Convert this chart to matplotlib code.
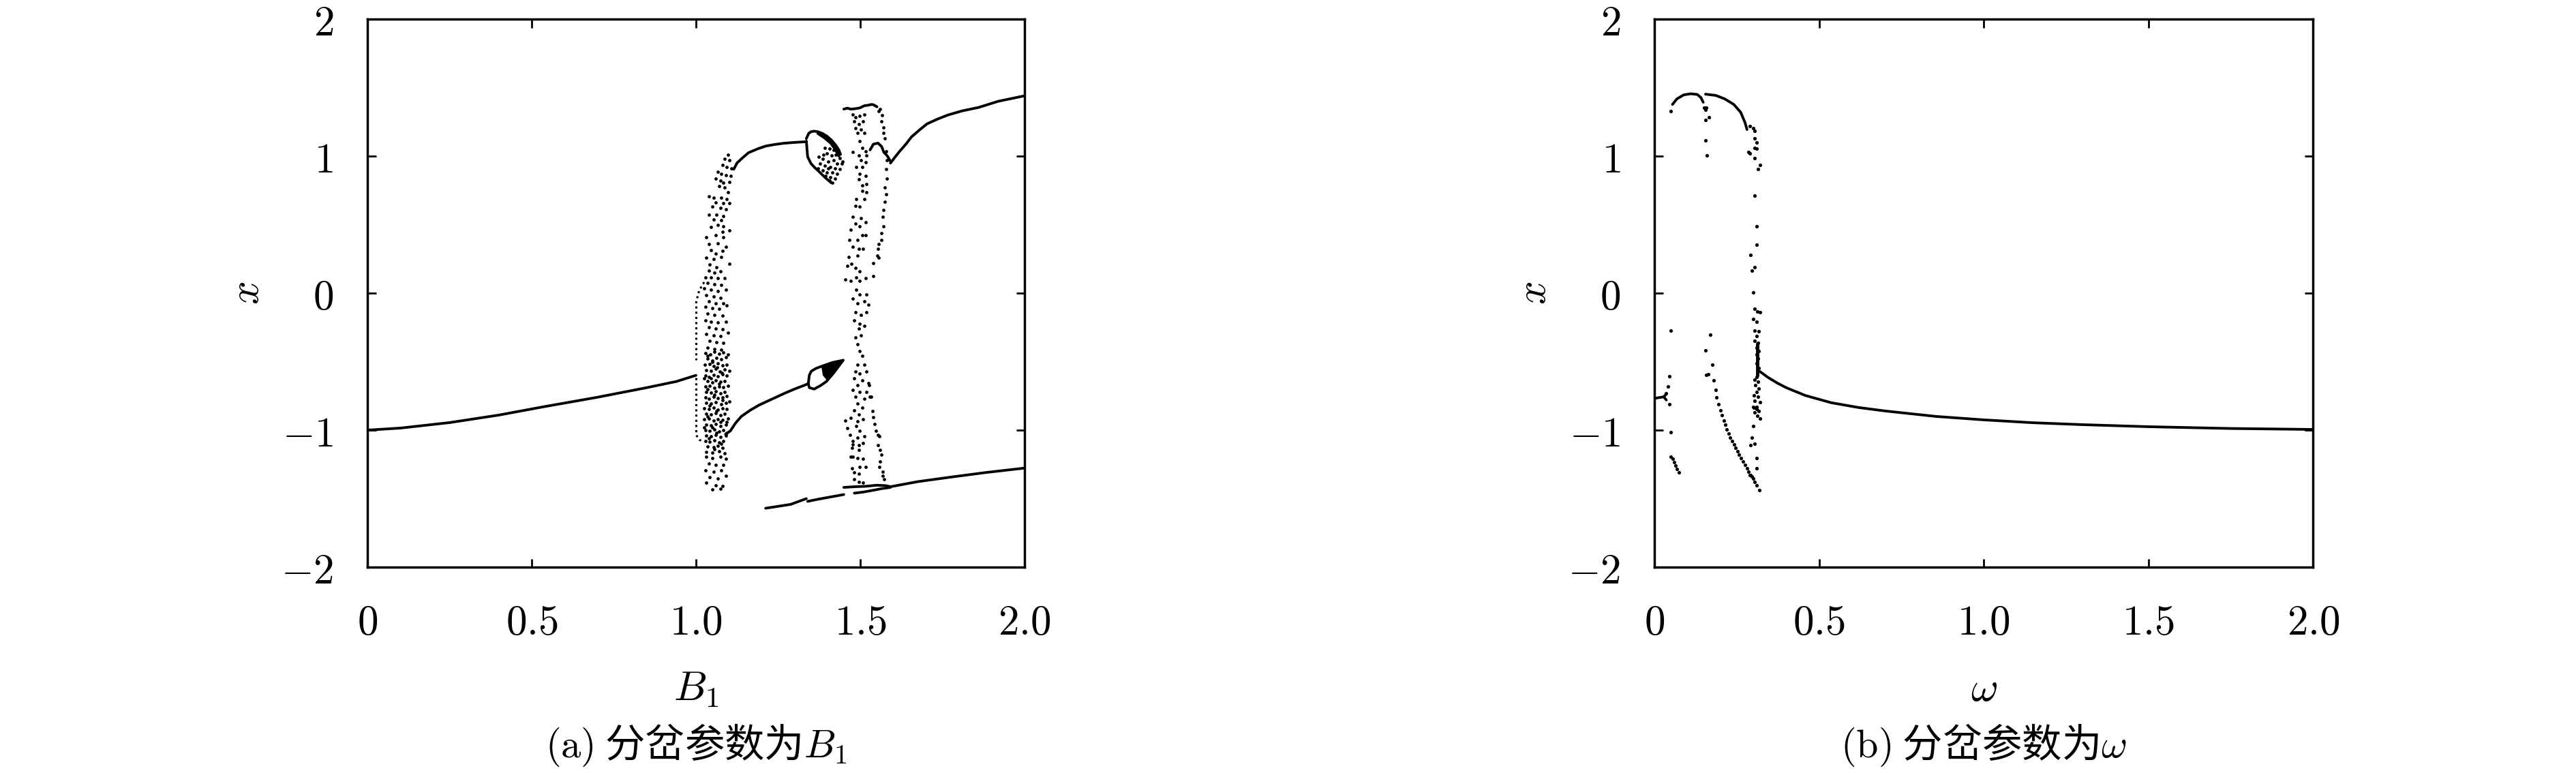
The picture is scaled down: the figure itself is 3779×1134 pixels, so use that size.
import numpy as np
import matplotlib.pyplot as plt

plt.rcParams['mathtext.fontset'] = 'cm'
plt.rcParams['font.family'] = ['Noto Sans CJK SC', 'DejaVu Sans']

# ---- axes / labels ----
x_ticks = [0, 0.5, 1.0, 1.5, 2.0]
x_ticklabels = ['$0$', '$0.5$', '$1.0$', '$1.5$', '$2.0$']
y_ticks = [-2, -1, 0, 1, 2]
y_ticklabels = ['$-2$', '$-1$', '$0$', '$1$', '$2$']
panel_xlabels = ['$B_1$', r'$\omega$']
panel_captions = [r'$\mathrm{(a)}$ 分岔参数为$B_1$', r'$\mathrm{(b)}$ 分岔参数为$\omega$']

# ---- panel (a): bifurcation vs B1 ----
a_left_branch = [(0.0, -1.0), (0.1, -0.985), (0.25, -0.945), (0.4, -0.89), (0.535, -0.83),
                 (0.7, -0.76), (0.85, -0.69), (0.94, -0.645), (1.0, -0.60)]
a_upper_mid = [(1.115, 0.904), (1.125, 0.95), (1.143, 0.99), (1.16, 1.025), (1.19, 1.055),
               (1.212, 1.073), (1.24, 1.085), (1.268, 1.094), (1.30, 1.10), (1.336, 1.105)]
a_crescent_outer = [(1.336, 1.128), (1.343, 1.165), (1.350, 1.178), (1.36, 1.182), (1.371, 1.178),
                    (1.385, 1.165), (1.399, 1.145), (1.413, 1.115), (1.426, 1.078), (1.435, 1.045),
                    (1.440, 1.012)]
a_crescent_inner = [(1.371, 1.165), (1.39, 1.135), (1.41, 1.095), (1.425, 1.045), (1.435, 1.0)]
a_crescent_lower = [(1.336, 1.11), (1.338, 1.05), (1.340, 0.995), (1.350, 0.946), (1.362, 0.915),
                    (1.371, 0.896), (1.392, 0.846), (1.412, 0.805)]
a_crescent_dots = [(1.392, 1.062), (1.406, 1.053), (1.419, 1.045), (1.399, 1.02), (1.412, 1.004),
                   (1.426, 1.012), (1.437, 0.987), (1.385, 0.979), (1.402, 0.962), (1.419, 0.97),
                   (1.43, 0.946), (1.444, 0.946), (1.378, 0.946), (1.392, 0.929), (1.409, 0.921),
                   (1.423, 0.912), (1.437, 0.904), (1.385, 0.896), (1.399, 0.879), (1.416, 0.879),
                   (1.43, 0.871), (1.395, 0.854), (1.409, 0.846), (1.423, 0.838), (1.406, 0.821),
                   (1.416, 0.805), (1.447, 0.962), (1.374, 0.995), (1.388, 1.012), (1.402, 0.912),
                   (1.371, 0.912)]
a_spear_stem = [(1.09, -1.03), (1.105, -1.005), (1.12, -0.95), (1.138, -0.90), (1.165, -0.855),
                (1.193, -0.816), (1.23, -0.775), (1.268, -0.733), (1.30, -0.70), (1.332, -0.671),
                (1.342, -0.66)]
a_spear_lower = [(1.342, -0.66), (1.345, -0.69), (1.36, -0.70), (1.379, -0.675), (1.397, -0.645),
                 (1.42, -0.58), (1.448, -0.49)]
a_spear_upper = [(1.342, -0.66), (1.345, -0.60), (1.351, -0.57), (1.365, -0.55), (1.379, -0.537),
                 (1.416, -0.506), (1.448, -0.49)]
a_spear_tip = [(1.382, -0.54), (1.448, -0.49), (1.40, -0.64), (1.386, -0.60)]
a_low_left_1 = [(1.212, -1.57), (1.25, -1.556), (1.288, -1.542), (1.336, -1.50)]
a_low_left_2 = [(1.340, -1.52), (1.37, -1.505), (1.40, -1.492), (1.45, -1.47)]
a_loop_top = [(1.450, -1.418), (1.482, -1.413), (1.516, -1.410), (1.550, -1.402), (1.578, -1.405),
              (1.592, -1.413)]
a_loop_bottom = [(1.482, -1.46), (1.509, -1.452), (1.537, -1.44), (1.565, -1.427), (1.592, -1.418)]
a_low_right = [(1.592, -1.413), (1.675, -1.376), (1.772, -1.344), (1.88, -1.31), (2.0, -1.277)]
a_upper_right = [(1.592, 0.949), (1.605, 0.99), (1.62, 1.035), (1.64, 1.09), (1.656, 1.14),
                 (1.68, 1.19), (1.703, 1.235), (1.735, 1.27), (1.767, 1.30), (1.81, 1.33),
                 (1.86, 1.355), (1.92, 1.40), (2.0, 1.44)]
a_band2_top = [(1.450, 1.343), (1.461, 1.35), (1.471, 1.343), (1.485, 1.346), (1.499, 1.352),
               (1.513, 1.368), (1.526, 1.372), (1.533, 1.377), (1.540, 1.375), (1.551, 1.36)]
a_band2_vloop = [(1.530, 1.045), (1.540, 1.087), (1.554, 1.095), (1.565, 1.07), (1.572, 1.028),
                 (1.582, 1.003), (1.592, 0.962)]
a_vline_1 = [(1.025, 0.08), (1.01, 0.02), (1.001, -0.06), (1.001, -0.49)]
a_vline_2 = [(1.001, -0.62), (1.001, -1.036), (1.01, -1.07), (1.025, -1.085)]

a_band1 = [
    # upper sparse part
    (1.098, 1.012), (1.087, 0.979), (1.101, 0.97), (1.080, 0.937), (1.094, 0.921), (1.108, 0.912),
    (1.067, 0.888), (1.077, 0.871), (1.091, 0.863), (1.105, 0.854), (1.060, 0.838), (1.074, 0.821),
    (1.084, 0.805), (1.101, 0.813), (1.070, 0.78), (1.087, 0.771), (1.098, 0.738), (1.039, 0.705),
    (1.053, 0.697), (1.077, 0.697), (1.094, 0.689), (1.060, 0.664), (1.084, 0.655), (1.101, 0.655),
    (1.049, 0.631), (1.074, 0.622), (1.091, 0.614), (1.039, 0.572), (1.063, 0.572), (1.084, 0.564),
    (1.053, 0.539), (1.077, 0.531), (1.067, 0.498), (1.084, 0.49), (1.046, 0.481), (1.101, 0.456),
    (1.080, 0.448), (1.032, 0.407), (1.060, 0.423), (1.084, 0.407),
    # middle part
    (1.039, 0.357), (1.067, 0.365), (1.091, 0.34), (1.046, 0.315), (1.060, 0.29), (1.080, 0.307),
    (1.032, 0.257), (1.053, 0.249), (1.077, 0.266), (1.101, 0.216), (1.042, 0.208), (1.063, 0.191),
    (1.039, 0.166), (1.056, 0.15), (1.074, 0.158), (1.029, 0.116), (1.046, 0.116), (1.067, 0.108),
    (1.087, 0.108), (1.036, 0.075), (1.056, 0.067), (1.077, 0.058), (1.025, 0.033), (1.046, 0.025),
    (1.067, 0.017), (1.091, 0.025), (1.032, -0.016), (1.053, -0.025), (1.074, -0.033), (1.039, -0.058),
    (1.060, -0.074), (1.084, -0.074), (1.029, -0.099), (1.049, -0.107), (1.070, -0.116), (1.094, -0.091),
    (1.036, -0.149), (1.056, -0.157), (1.080, -0.166), (1.029, -0.199), (1.046, -0.207), (1.067, -0.215),
    (1.091, -0.207), (1.039, -0.248), (1.060, -0.257), (1.080, -0.265), (1.032, -0.298), (1.053, -0.306),
    (1.074, -0.315), (1.098, -0.29), (1.042, -0.348), (1.063, -0.356), (1.084, -0.364), (1.036, -0.398),
    (1.056, -0.406), (1.077, -0.414),
    # dense lower part
    (1.029, -0.44), (1.043, -0.45), (1.057, -0.43), (1.070, -0.445), (1.084, -0.435), (1.098, -0.45),
    (1.035, -0.48), (1.049, -0.49), (1.063, -0.475), (1.077, -0.485), (1.091, -0.47),
    (1.028, -0.52), (1.042, -0.515), (1.055, -0.53), (1.067, -0.51), (1.080, -0.525), (1.094, -0.52),
    (1.032, -0.56), (1.046, -0.565), (1.060, -0.55), (1.073, -0.57), (1.087, -0.555), (1.101, -0.565),
    (1.029, -0.60), (1.039, -0.61), (1.053, -0.595), (1.067, -0.605), (1.080, -0.59), (1.094, -0.60),
    (1.036, -0.64), (1.049, -0.65), (1.060, -0.635), (1.074, -0.645), (1.087, -0.64),
    (1.029, -0.68), (1.042, -0.675), (1.056, -0.69), (1.070, -0.68), (1.084, -0.685), (1.098, -0.675),
    (1.032, -0.72), (1.046, -0.725), (1.060, -0.715), (1.074, -0.73), (1.087, -0.72),
    (1.029, -0.76), (1.039, -0.77), (1.053, -0.755), (1.067, -0.765), (1.080, -0.76), (1.094, -0.75),
    (1.032, -0.80), (1.046, -0.805), (1.060, -0.795), (1.077, -0.81), (1.091, -0.80), (1.101, -0.79),
    (1.025, -0.84), (1.039, -0.845), (1.053, -0.835), (1.067, -0.85), (1.080, -0.84), (1.094, -0.845),
    (1.032, -0.88), (1.046, -0.885), (1.060, -0.875), (1.074, -0.89), (1.087, -0.88),
    (1.025, -0.92), (1.039, -0.915), (1.053, -0.93), (1.067, -0.92), (1.080, -0.925), (1.098, -0.915),
    (1.032, -0.96), (1.046, -0.965), (1.060, -0.955), (1.074, -0.97), (1.091, -0.96),
    (1.029, -1.00), (1.042, -1.005), (1.056, -0.995), (1.070, -1.01), (1.084, -1.00),
    (1.032, -1.04), (1.046, -1.045), (1.060, -1.035), (1.074, -1.05), (1.091, -1.04),
    (1.029, -1.08), (1.042, -1.085), (1.056, -1.075), (1.070, -1.09), (1.084, -1.08),
    (1.036, -1.12), (1.053, -1.125), (1.067, -1.115), (1.080, -1.13),
    (1.032, -1.16), (1.049, -1.165), (1.070, -1.155), (1.087, -1.17),
    (1.036, -0.46), (1.050, -0.50), (1.064, -0.54), (1.078, -0.58), (1.046, -0.62), (1.070, -0.66),
    (1.036, -0.70), (1.056, -0.74), (1.080, -0.78), (1.042, -0.82), (1.063, -0.86), (1.036, -0.90),
    (1.074, -0.94), (1.049, -0.98), (1.063, -1.02), (1.039, -1.06), (1.077, -1.10), (1.056, -1.14),
    (1.094, -1.02), (1.094, -0.94), (1.025, -0.98), (1.025, -0.62),
    # bottom tail
    (1.032, -1.194), (1.049, -1.202), (1.074, -1.194), (1.091, -1.21), (1.039, -1.244), (1.060, -1.252),
    (1.084, -1.252), (1.029, -1.293), (1.053, -1.302), (1.077, -1.293), (1.042, -1.343), (1.067, -1.351),
    (1.091, -1.335), (1.032, -1.385), (1.060, -1.401), (1.080, -1.41), (1.049, -1.434), (1.074, -1.426),
]

a_band2 = [
    # right edge dotted line
    (1.557, 1.327), (1.564, 1.252), (1.571, 1.169), (1.575, 1.128), (1.578, 1.037), (1.582, 0.97),
    (1.578, 0.905), (1.582, 0.838), (1.574, 0.772), (1.578, 0.722), (1.574, 0.665), (1.571, 0.607),
    (1.568, 0.556), (1.571, 0.490), (1.564, 0.440), (1.564, 0.390), (1.557, 0.357), (1.554, 0.323),
    (1.551, 0.274), (1.557, 0.257), (1.540, 0.124), (1.561, 1.343), (1.566, 1.30), (1.570, 1.21),
    # left group, upper
    (1.478, 1.302), (1.485, 1.285), (1.499, 1.294), (1.513, 1.302), (1.481, 1.252), (1.495, 1.236),
    (1.509, 1.252), (1.485, 1.202), (1.502, 1.194), (1.513, 1.169), (1.492, 1.169), (1.499, 1.111),
    (1.478, 1.028), (1.506, 1.061), (1.516, 1.036), (1.495, 1.003), (1.519, 1.003), (1.502, 0.97),
    (1.488, 0.92), (1.506, 0.92), (1.516, 0.953), (1.499, 0.871), (1.516, 0.854), (1.495, 0.83),
    (1.506, 0.788), (1.519, 0.796), (1.506, 0.747), (1.519, 0.738), (1.488, 0.688), (1.513, 0.688),
    (1.485, 0.639), (1.499, 0.63), (1.478, 0.556), (1.502, 0.548), (1.516, 0.515), (1.485, 0.506),
    (1.499, 0.49), (1.471, 0.465), (1.506, 0.423), (1.516, 0.423), (1.467, 0.390), (1.492, 0.390),
    (1.478, 0.340), (1.495, 0.323), (1.509, 0.323), (1.464, 0.265), (1.492, 0.274), (1.54, 0.22),
    # lower section
    (1.461, 0.199), (1.474, 0.216), (1.485, 0.183), (1.499, 0.158), (1.488, 0.116), (1.454, 0.1),
    (1.471, 0.091), (1.499, 0.091), (1.516, 0.108), (1.488, 0.025), (1.499, -0.008), (1.519, -0.008),
    (1.478, -0.041), (1.492, -0.075), (1.513, -0.058), (1.526, -0.083), (1.485, -0.141), (1.502, -0.157),
    (1.519, -0.141), (1.481, -0.199), (1.499, -0.224), (1.495, -0.257), (1.513, -0.24), (1.485, -0.323),
    (1.502, -0.307), (1.492, -0.373), (1.499, -0.423), (1.506, -0.456), (1.492, -0.522), (1.513, -0.522),
    (1.485, -0.572), (1.499, -0.589), (1.519, -0.572), (1.481, -0.622), (1.506, -0.638), (1.492, -0.672),
    (1.526, -0.655), (1.478, -0.705), (1.499, -0.721), (1.519, -0.721), (1.485, -0.754), (1.513, -0.771),
    (1.492, -0.804), (1.533, -0.754), (1.506, -0.837), (1.481, -0.854), (1.495, -0.887), (1.540, -0.904),
    (1.454, -0.929), (1.471, -0.912), (1.492, -0.937), (1.509, -0.92), (1.461, -0.987), (1.488, -0.97),
    (1.499, -1.003), (1.547, -1.003), (1.468, -1.036), (1.492, -1.053), (1.513, -1.045), (1.554, -1.036),
    (1.478, -1.103), (1.495, -1.111), (1.554, -1.111), (1.527, -0.672), (1.530, -0.755), (1.537, -0.863),
    (1.544, -0.954),
    # bottom end
    (1.478, -1.078), (1.509, -1.095), (1.558, -1.045), (1.475, -1.128), (1.495, -1.145), (1.561, -1.145),
    (1.478, -1.194), (1.492, -1.203), (1.509, -1.211), (1.565, -1.178), (1.471, -1.194), (1.475, -1.277),
    (1.499, -1.269), (1.516, -1.269), (1.561, -1.227), (1.558, -1.269), (1.568, -1.302), (1.482, -1.31),
    (1.495, -1.319), (1.482, -1.36), (1.568, -1.335), (1.572, -1.36), (1.495, -1.377), (1.509, -1.385),
]

# ---- panel (b): bifurcation vs omega ----
b_arc1 = [(0.0545, 1.377), (0.0683, 1.418), (0.089, 1.447), (0.110, 1.455), (0.130, 1.45),
          (0.141, 1.427), (0.148, 1.393)]
b_arc2 = [(0.155, 1.452), (0.186, 1.443), (0.213, 1.418), (0.241, 1.377), (0.262, 1.319),
          (0.275, 1.244), (0.281, 1.194)]
b_tail = [(0.320, -0.572), (0.344, -0.614), (0.372, -0.655), (0.40, -0.69), (0.458, -0.747),
          (0.537, -0.80), (0.62, -0.835), (0.70, -0.86), (0.855, -0.90), (1.0, -0.925),
          (1.15, -0.946), (1.3, -0.96), (1.5, -0.975), (1.75, -0.988), (2.0, -0.995)]
b_column = [(0.313, -0.37), (0.313, -0.60)]
b_fork = [(0.0, -0.768), (0.015, -0.762), (0.028, -0.757), (0.036, -0.78)]
b_fork_arm = [(0.028, -0.757), (0.034, -0.742)]
b_dots = [
    (0.0497, 1.330), (0.151, 1.352), (0.158, 1.352), (0.155, 1.336), (0.165, 1.286), (0.155, 1.264),
    (0.155, 1.112), (0.160, 1.004),
    (0.289, 1.219), (0.299, 1.203), (0.305, 1.186), (0.304, 1.128), (0.310, 1.098), (0.303, 1.062),
    (0.310, 1.054), (0.286, 1.029), (0.289, 1.020), (0.304, 0.987), (0.320, 0.937), (0.315, 0.904),
    (0.304, 0.710), (0.310, 0.490), (0.310, 0.352), (0.291, 0.279), (0.295, 0.163), (0.304, 0.191),
    (0.300, 0.007),
    (0.304, -0.116), (0.313, -0.132), (0.32, -0.14), (0.299, -0.19), (0.31, -0.207), (0.304, -0.273),
    (0.317, -0.281), (0.31, -0.315), (0.303, -0.348), (0.315, -0.364), (0.31, -0.397), (0.317, -0.422),
    (0.31, -0.447), (0.315, -0.48), (0.31, -0.514), (0.317, -0.547), (0.31, -0.613), (0.303, -0.63),
    (0.315, -0.646), (0.306, -0.671), (0.317, -0.696), (0.31, -0.721), (0.302, -0.746), (0.315, -0.754),
    (0.304, -0.787), (0.32, -0.795), (0.31, -0.829), (0.302, -0.837), (0.317, -0.862), (0.299, -0.829),
    (0.31, -0.846), (0.303, -0.871), (0.313, -0.896), (0.32, -0.916), (0.299, -0.970), (0.296, -1.057),
    (0.291, -1.111), (0.304, -1.098), (0.31, -1.206), (0.31, -1.28),
    (0.0497, -0.273), (0.0456, -0.605), (0.0407, -0.683), (0.035, -0.729), (0.046, -0.812),
    (0.050, -1.015), (0.050, -1.194), (0.055, -1.211), (0.060, -1.236), (0.064, -1.26), (0.069, -1.285),
    (0.075, -1.31),
    (0.170, -0.301), (0.154, -0.417), (0.175, -0.522), (0.158, -0.597), (0.164, -0.594), (0.18, -0.635),
    (0.186, -0.708), (0.189, -0.763), (0.195, -0.813), (0.2, -0.854), (0.205, -0.892), (0.21, -0.929),
    (0.215, -0.962), (0.22, -0.995), (0.225, -1.025), (0.23, -1.053), (0.235, -1.078), (0.241, -1.103),
    (0.246, -1.128), (0.252, -1.153), (0.257, -1.178), (0.263, -1.203), (0.268, -1.227), (0.274, -1.252),
    (0.281, -1.277), (0.286, -1.302), (0.292, -1.327), (0.3, -1.352), (0.305, -1.377), (0.31, -1.402),
    (0.319, -1.44), (0.29, -1.33), (0.295, -1.34),
]


def line(ax, pts, lw=2.8):
    p = np.array(pts)
    ax.plot(p[:, 0], p[:, 1], color='k', lw=lw, solid_capstyle='round', solid_joinstyle='round')


def dots(ax, pts, s=12):
    p = np.array(pts)
    ax.scatter(p[:, 0], p[:, 1], s=s, c='k', linewidths=0)


def style_axes(ax):
    ax.set_xlim(0, 2)
    ax.set_ylim(-2, 2)
    ax.set_xticks(x_ticks)
    ax.set_xticklabels(x_ticklabels)
    ax.set_yticks(y_ticks)
    ax.set_yticklabels(y_ticklabels)
    ax.tick_params(direction='in', length=9, width=2, top=True, right=True,
                   labelsize=44, pad=36)
    for sp in ax.spines.values():
        sp.set_linewidth(2.5)


fig = plt.figure(figsize=(37.8, 11.34), dpi=100)
ax1 = fig.add_axes([0.1426, 0.2663, 0.2550, 0.7090])
ax2 = fig.add_axes([0.6421, 0.2663, 0.2556, 0.7090])

# panel (a)
for seg in [a_left_branch, a_upper_mid, a_crescent_outer, a_crescent_inner, a_crescent_lower,
            a_spear_stem, a_spear_lower, a_spear_upper, a_low_left_1, a_low_left_2,
            a_loop_top, a_loop_bottom, a_low_right, a_upper_right, a_band2_top, a_band2_vloop]:
    line(ax1, seg)
for seg in [a_vline_1, a_vline_2]:
    ax1.plot(*np.array(seg).T, color='k', lw=2.2, ls=(0, (1, 1.5)))
crescent = np.array(a_crescent_outer[4:] + a_crescent_inner[::-1])
ax1.fill(crescent[:, 0], crescent[:, 1], color='k', lw=0)
tip = np.array(a_spear_tip)
ax1.fill(tip[:, 0], tip[:, 1], color='k', lw=0)
dots(ax1, a_band1)
dots(ax1, a_band2)
dots(ax1, a_crescent_dots)

# panel (b)
for seg in [b_arc1, b_arc2, b_tail, b_fork, b_fork_arm]:
    line(ax2, seg)
line(ax2, b_column, lw=3.5)
dots(ax2, b_dots, s=14)

for ax, xl, cap in zip([ax1, ax2], panel_xlabels, panel_captions):
    style_axes(ax)
    pos = ax.get_position()
    cx = pos.x0 + pos.width / 2
    fig.text(cx, 0.109, xl, ha='center', va='center', fontsize=44)
    fig.text(cx, 0.036, cap, ha='center', va='center', fontsize=42)
    fig.text(pos.x0 - 0.047, pos.y0 + pos.height / 2, '$x$', ha='center', va='center',
             fontsize=44, rotation=90)

fig.savefig('out.png', dpi=100)
